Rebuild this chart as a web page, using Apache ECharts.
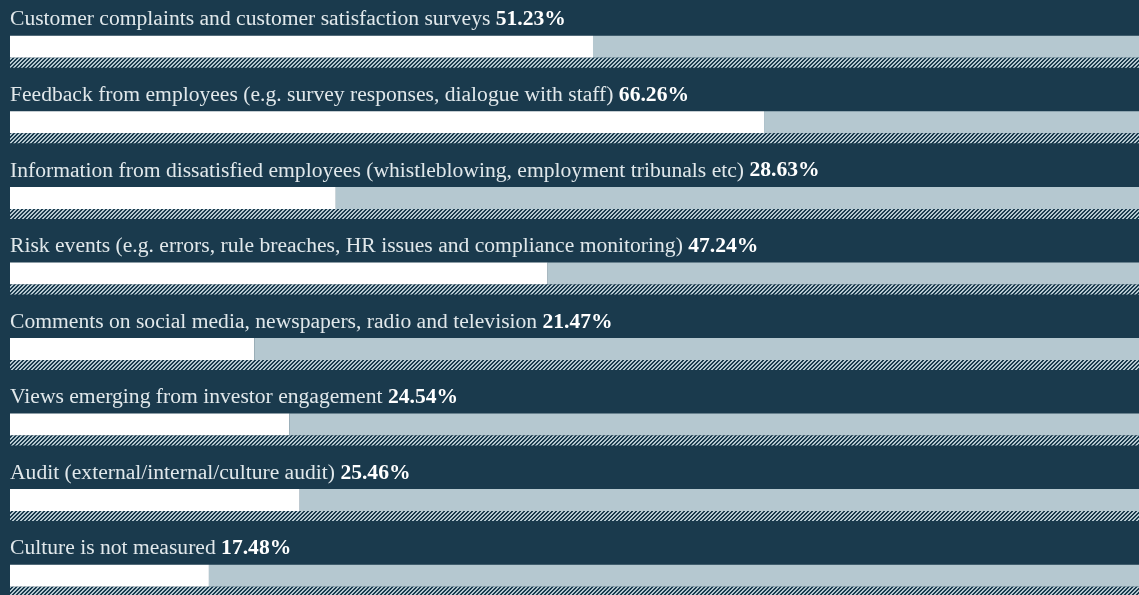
<!DOCTYPE html>
<html>
<head>
<meta charset="utf-8">
<script src="https://cdn.jsdelivr.net/npm/echarts@6/dist/echarts.min.js"></script>
<style>
  html, body { margin: 0; padding: 0; background: #1a3a4d; }
  #chart { width: 1139px; height: 595px; }
</style>
</head>
<body>
<div id="chart"></div>
<script>
// culture measurement sources, share of respondents (%)
var categories = [
    'Customer complaints and customer satisfaction surveys',
    'Feedback from employees (e.g. survey responses, dialogue with staff)',
    'Information from dissatisfied employees (whistleblowing, employment tribunals etc)',
    'Risk events (e.g. errors, rule breaches, HR issues and compliance monitoring)',
    'Comments on social media, newspapers, radio and television',
    'Views emerging from investor engagement',
    'Audit (external/internal/culture audit)',
    'Culture is not measured'
];
var values = [51.23, 66.26, 28.63, 47.24, 21.47, 24.54, 25.46, 17.48];
var full = 100;

// diagonal hatch tile, light stripes on the dark background
function hatchTile() {
    var c = document.createElement('canvas');
    c.width = 4;
    c.height = 4;
    var ctx = c.getContext('2d');
    var img = ctx.createImageData(4, 4);
    for (var y = 0; y < 4; y++) {
        for (var x = 0; x < 4; x++) {
            var i = (y * 4 + x) * 4;
            var on = (x + y) % 4 < 2;
            img.data[i] = on ? 181 : 26;
            img.data[i + 1] = on ? 200 : 58;
            img.data[i + 2] = on ? 208 : 77;
            img.data[i + 3] = 255;
        }
    }
    ctx.putImageData(img, 0, 0);
    return c;
}

var myChart = echarts.init(document.getElementById('chart'));
var option = {
    backgroundColor: '#1a3a4d',
    animation: false,
    grid: {
        left: 10,
        top: 14,
        width: 1138,
        height: 604.4,
        outerBoundsMode: 'none',
        containLabel: false
    },
    xAxis: {
        type: 'value',
        min: 0,
        max: full,
        show: false
    },
    yAxis: {
        type: 'category',
        data: categories,
        inverse: true,
        show: false
    },
    series: [{
            name: 'share',
            type: 'bar',
            stack: 'row',
            barWidth: 22,
            itemStyle: { color: '#ffffff' },
            label: {
                show: true,
                position: [0, -5],
                verticalAlign: 'bottom',
                align: 'left',
                formatter: function (p) {
                    return '{t|' + p.name + ' }{v|' + p.value.toFixed(2) + '%}';
                },
                rich: {
                    t: {
                        fontFamily: 'Liberation Serif',
                        fontSize: 21.6,
                        color: '#e1e8eb'
                    },
                    v: {
                        fontFamily: 'Liberation Serif',
                        fontSize: 21.6,
                        fontWeight: 'bold',
                        color: '#ffffff'
                    }
                }
            },
            data: values
        },
        {
            name: 'rest',
            type: 'bar',
            stack: 'row',
            barWidth: 22,
            itemStyle: { color: '#b5c8d0' },
            data: values.map(function (v) { return +(full - v).toFixed(2); })
        },
        {
            name: 'hatch',
            type: 'bar',
            barWidth: 10,
            barGap: 0,
            itemStyle: {
                color: { image: hatchTile(), repeat: 'repeat' }
            },
            data: categories.map(function () { return full; })
        }
    ]
};
myChart.setOption(option);
</script>
</body>
</html>
